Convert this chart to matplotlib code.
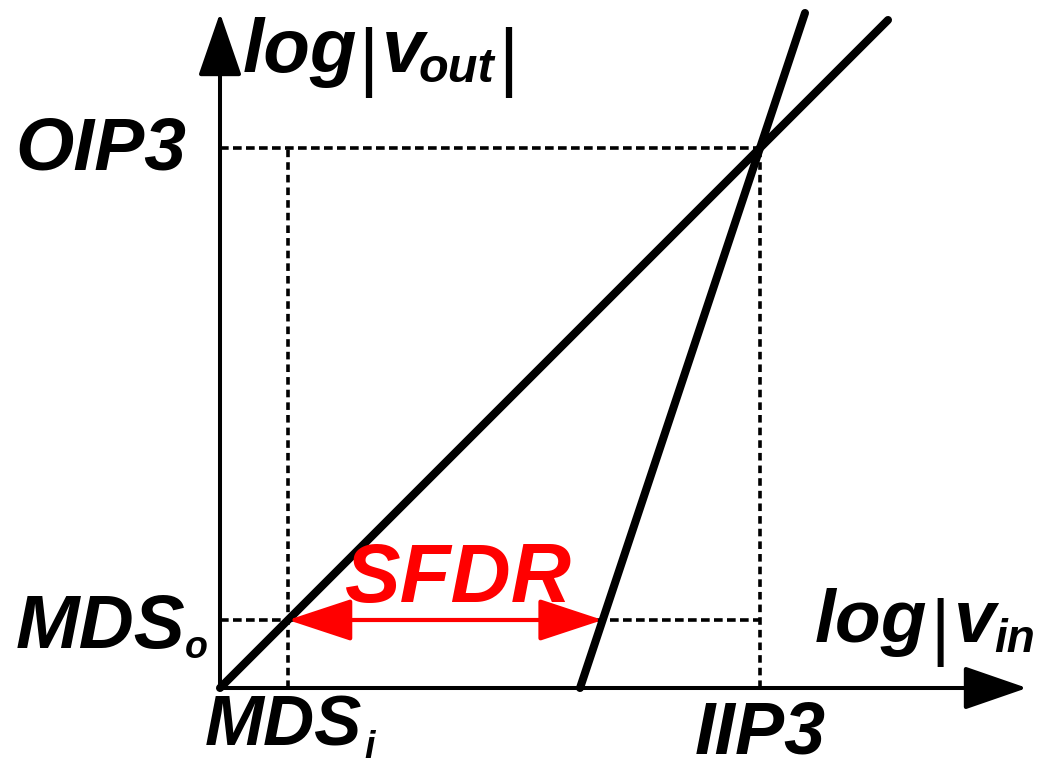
import matplotlib.pyplot as plt

plt.rcParams['font.family'] = ['Liberation Sans', 'DejaVu Sans']

# levels (arbitrary log units, origin at the corner of the axes)
iip3 = 54.0
oip3 = 54.0
mds_i = 6.8
mds_o = 6.8
fund_x = [0.0, 66.8]      # fundamental, slope 1
im3_x = [36.0, 58.5]      # third order product, slope 3
x_axis_end = 80.7
y_axis_end = 67.5

fund_y = [x for x in fund_x]
im3_y = [3 * x - 2 * iip3 for x in im3_x]
sfdr_end = (mds_o + 2 * iip3) / 3

fig = plt.figure(figsize=(10.53, 7.61), dpi=100)
ax = fig.add_axes([0, 0, 1, 1])
ax.set_xlim(-22.0, 83.3)
ax.set_ylim(-7.3, 68.8)
ax.axis('off')

# dashed guides
hdash = dict(color='black', lw=2.6, linestyle=(0, (2.4, 1.2)), zorder=1)
vdash = dict(color='black', lw=2.6, linestyle=(0, (2.1, 1.4)), zorder=1)
ax.plot([0, iip3], [oip3, oip3], **hdash)
ax.plot([0, iip3], [mds_o, mds_o], **hdash)
ax.plot([iip3, iip3], [0, oip3], **vdash)
ax.plot([mds_i, mds_i], [0, oip3], **vdash)

# transfer curves
ax.plot(fund_x, fund_y, color='black', lw=5.8, solid_capstyle='round', zorder=3)
ax.plot(im3_x, im3_y, color='black', lw=5.8, solid_capstyle='round', zorder=3)

# axes with arrow heads
axis_arrow = dict(arrowstyle='-|>,head_length=0.55,head_width=0.19', color='black',
                  lw=2.9, mutation_scale=72, shrinkA=0, shrinkB=0)
ax.annotate('', xy=(x_axis_end, 0), xytext=(0, 0), arrowprops=axis_arrow, zorder=4)
ax.annotate('', xy=(0, y_axis_end), xytext=(0, 0), arrowprops=axis_arrow, zorder=4)

# SFDR arrow
ax.annotate('', xy=(sfdr_end, mds_o), xytext=(mds_i, mds_o),
            arrowprops=dict(arrowstyle='<|-|>,head_length=1.0,head_width=0.33', color='red',
                            lw=3, mutation_scale=40, shrinkA=0, shrinkB=0), zorder=5)


def label(x, y, s, size, ha='left', color='black', style='italic', weight='bold'):
    ax.text(x, y, s, fontsize=size, ha=ha, va='baseline', color=color,
            fontstyle=style, fontweight=weight, zorder=6)


label(-3.4, oip3 - 2.2, 'OIP3', 54, ha='right')
label(-3.5, 4.0, 'MDS', 55, ha='right')
label(-3.5, 3.0, 'o', 27)
label(14.2, -5.7, 'MDS', 51, ha='right')
label(14.4, -7.0, 'i', 27)
label(iip3, -6.5, 'IIP3', 53, ha='center')
label(23.8, 8.6, 'SFDR', 60, ha='center', color='red')

# y axis title
label(2.3, 61.6, 'log', 55)
label(14.8, 60.6, '|', 55, ha='center', style='normal', weight='normal')
label(16.2, 61.6, 'v', 55)
label(19.9, 60.6, 'out', 35)
label(28.8, 60.6, '|', 55, ha='center', style='normal', weight='normal')

# x axis title
label(59.5, 4.6, 'log', 54)
label(72.0, 3.6, '|', 53, ha='center', style='normal', weight='normal')
label(73.4, 4.6, 'v', 54)
label(77.4, 3.6, 'in', 33)

fig.savefig('out.png', dpi=100)
